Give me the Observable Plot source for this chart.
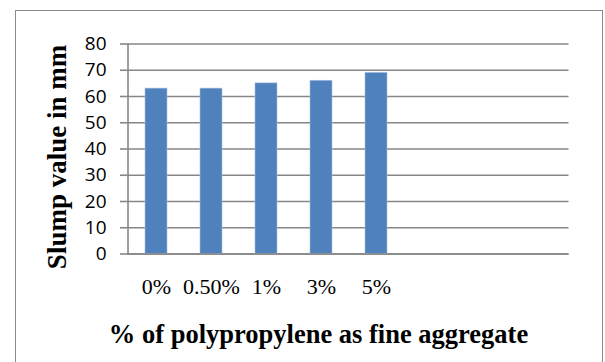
<!DOCTYPE html>
<html>
<head>
<meta charset="utf-8">
<script src="https://cdn.jsdelivr.net/npm/d3@7"></script>
<script src="https://cdn.jsdelivr.net/npm/@observablehq/plot@0.6"></script>
<style>
  html, body { margin: 0; padding: 0; background: #fff; }
  #wrap { position: relative; width: 605px; height: 362px; overflow: hidden; }
  #box { position: absolute; left: 15px; top: 10px; width: 588px; height: 400px;
         border: 1.5px solid #8a8a8a; box-sizing: border-box; }
  #chart { position: absolute; left: 0; top: 0; }
</style>
</head>
<body>
<div id="wrap"><div id="box"></div><div id="chart"></div></div>
<script>
// Slump value for each polypropylene replacement level
const categories = ["0%", "0.50%", "1%", "3%", "5%"];
const slumpValues = [63, 63, 65, 66, 69];
// unused category slots on the right of the axis
const emptySlots = ["slot6", "slot7", "slot8"];
const yTicks = [0, 10, 20, 30, 40, 50, 60, 70, 80];
const yTitle = "Slump value in mm";
const xTitle = "% of polypropylene as fine aggregate";

const rows = categories.map((c, i) => ({category: c, value: slumpValues[i]}));

const gridColor = "#868686";
const serif = "'Liberation Serif', 'Times New Roman', serif";

const chart = Plot.plot({
  width: 605,
  height: 362,
  marginLeft: 127.5,
  marginRight: 36.5,
  marginTop: 43.5,
  marginBottom: 108.5,
  style: {background: "transparent", overflow: "visible"},
  x: {domain: categories.concat(emptySlots), paddingInner: 0.6, paddingOuter: 0.3},
  y: {domain: [0, 80]},
  marks: [
    Plot.gridY(yTicks, {stroke: gridColor, strokeOpacity: 1, strokeWidth: 1.6}),
    Plot.axisY(yTicks, {
      tickSize: 7.5, tickPadding: 14, stroke: gridColor, strokeWidth: 1.6, strokeOpacity: 1,
      fill: "black", fontSize: 19, fontFamily: "'Open Sans', sans-serif", label: null
    }),
    Plot.frame({anchor: "left", stroke: gridColor, strokeWidth: 1.6}),
    Plot.barY(rows, {x: "category", y: "value", fill: "#4F81BD", stroke: "#a9c0df", strokeWidth: 0.6}),
    Plot.ruleY([0], {stroke: gridColor, strokeWidth: 1.6}),
    Plot.axisX(categories, {
      tickSize: 0, tickPadding: 24, fill: "black", fontSize: 22, fontFamily: serif, label: null
    }),
    Plot.text([yTitle], {
      frameAnchor: "left", textAnchor: "middle", rotate: -90, dx: -71, dy: 8, lineAnchor: "middle",
      fontSize: 27, fontWeight: "bold", fontFamily: serif, fill: "black"
    }),
    Plot.text([xTitle], {
      frameAnchor: "bottom", dx: -30, dy: 81, lineAnchor: "middle",
      fontSize: 26.5, fontWeight: "bold", fontFamily: serif, fill: "black"
    })
  ]
});

document.getElementById("chart").append(chart);
</script>
</body>
</html>
